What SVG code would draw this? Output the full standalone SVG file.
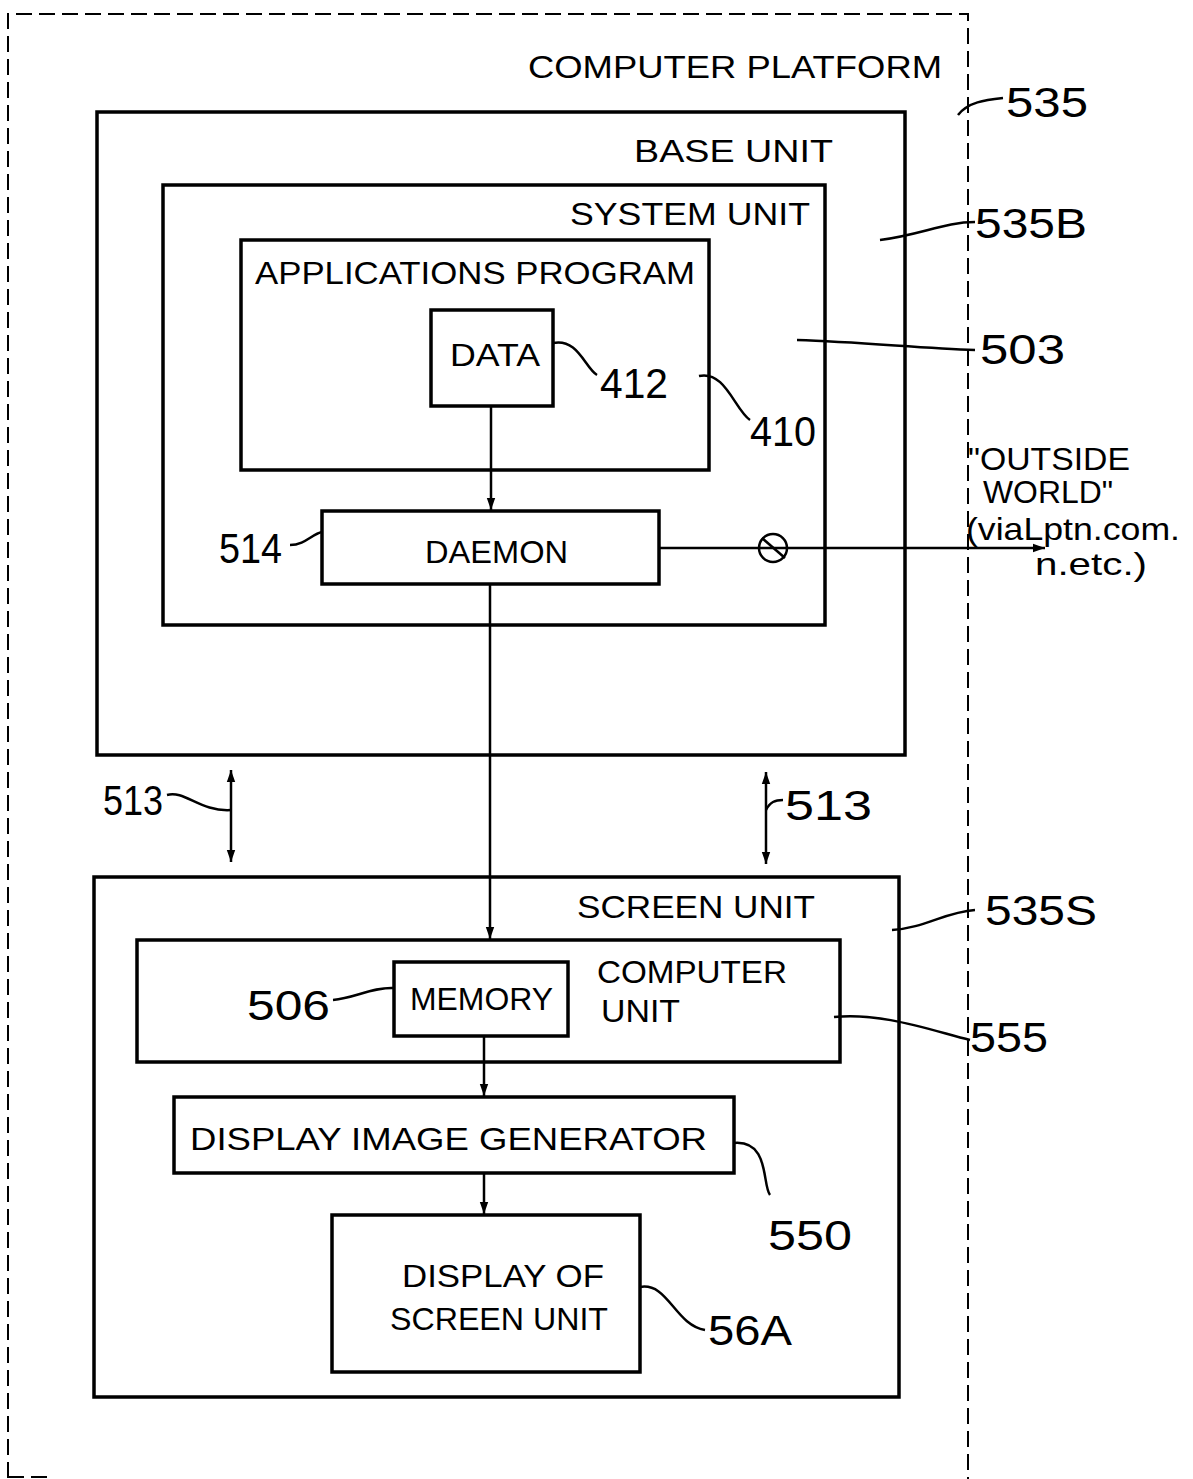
<svg xmlns="http://www.w3.org/2000/svg" width="1193" height="1479" viewBox="0 0 1193 1479">
<style>
.box{fill:none;stroke:#000;stroke-width:3.5}
.dash{fill:none;stroke:#000;stroke-width:2;stroke-dasharray:16,7}
.ln{fill:none;stroke:#000;stroke-width:2.5}
.lead{fill:none;stroke:#000;stroke-width:2.5}
text{font-family:"Liberation Sans",Arial,sans-serif;fill:#000}
.t{font-size:32px}
.n{font-size:42px}
</style>
<defs>
<marker id="ah" viewBox="0 0 10 10" refX="10" refY="5" markerWidth="12" markerHeight="14" markerUnits="userSpaceOnUse" orient="auto-start-reverse">
<path d="M0,1.5 L10,5 L0,8.5 z" fill="#000"/>
</marker>
<marker id="ahl" viewBox="0 0 10 10" refX="10" refY="5" markerWidth="26" markerHeight="12" markerUnits="userSpaceOnUse" orient="auto-start-reverse">
<path d="M0,1.5 L10,5 L0,8.5 z" fill="#000"/>
</marker>
</defs>
<rect width="1193" height="1479" fill="#fff"/>

<g id="platform">
<path class="dash" d="M8,1478 L8,14 L968,14 L968,1479"/>
<path class="dash" d="M8,1477 L50,1477"/>
<text class="t" x="528" y="78" textLength="414" lengthAdjust="spacingAndGlyphs">COMPUTER PLATFORM</text>
<text class="n" x="1006" y="117" textLength="82" lengthAdjust="spacingAndGlyphs">535</text>
</g>

<g id="base-unit">
<rect class="box" x="97" y="112" width="808" height="643"/>
<text class="t" x="634" y="162" textLength="199" lengthAdjust="spacingAndGlyphs">BASE UNIT</text>
<text class="n" x="975" y="238" textLength="112" lengthAdjust="spacingAndGlyphs">535B</text>
</g>

<g id="system-unit">
<rect class="box" x="163" y="185" width="662" height="440"/>
<text class="t" x="570" y="225" textLength="240" lengthAdjust="spacingAndGlyphs">SYSTEM UNIT</text>
<text class="n" x="980" y="364" textLength="85" lengthAdjust="spacingAndGlyphs">503</text>
</g>

<g id="applications-program">
<rect class="box" x="241" y="240" width="468" height="230"/>
<text class="t" x="255" y="284" textLength="440" lengthAdjust="spacingAndGlyphs">APPLICATIONS PROGRAM</text>
<text class="n" x="750" y="446" textLength="66" lengthAdjust="spacingAndGlyphs">410</text>
</g>

<g id="data">
<rect class="box" x="431" y="310" width="122" height="96"/>
<text class="t" x="450" y="366" textLength="90" lengthAdjust="spacingAndGlyphs">DATA</text>
<text class="n" x="600" y="398" textLength="68" lengthAdjust="spacingAndGlyphs">412</text>
</g>

<g id="daemon">
<rect class="box" x="322" y="511" width="337" height="73"/>
<text class="t" x="425" y="563" textLength="143" lengthAdjust="spacingAndGlyphs">DAEMON</text>
<text class="n" x="219" y="563" textLength="63" lengthAdjust="spacingAndGlyphs">514</text>
</g>

<g id="outside-world">
<text class="t" x="968" y="470" textLength="162" lengthAdjust="spacingAndGlyphs">"OUTSIDE</text>
<text class="t" x="983" y="503" textLength="130" lengthAdjust="spacingAndGlyphs">WORLD"</text>
<text class="t" x="966" y="540" textLength="214" lengthAdjust="spacingAndGlyphs">(viaLptn.com.</text>
<text class="t" x="1035" y="575" textLength="112" lengthAdjust="spacingAndGlyphs">n.etc.)</text>
</g>

<g id="screen-unit">
<rect class="box" x="94" y="877" width="805" height="520"/>
<text class="t" x="577" y="918" textLength="238" lengthAdjust="spacingAndGlyphs">SCREEN UNIT</text>
<text class="n" x="985" y="925" textLength="112" lengthAdjust="spacingAndGlyphs">535S</text>
</g>

<g id="computer-unit">
<rect class="box" x="137" y="940" width="703" height="122"/>
<text class="t" x="597" y="983" textLength="190" lengthAdjust="spacingAndGlyphs">COMPUTER</text>
<text class="t" x="601" y="1022" textLength="79" lengthAdjust="spacingAndGlyphs">UNIT</text>
<text class="n" x="970" y="1052" textLength="78" lengthAdjust="spacingAndGlyphs">555</text>
</g>

<g id="memory">
<rect class="box" x="394" y="962" width="174" height="74"/>
<text class="t" x="410" y="1010" textLength="143" lengthAdjust="spacingAndGlyphs">MEMORY</text>
<text class="n" x="247" y="1020" textLength="83" lengthAdjust="spacingAndGlyphs">506</text>
</g>

<g id="display-image-generator">
<rect class="box" x="174" y="1097" width="560" height="76"/>
<text class="t" x="190" y="1150" textLength="517" lengthAdjust="spacingAndGlyphs">DISPLAY IMAGE GENERATOR</text>
<text class="n" x="768" y="1250" textLength="84" lengthAdjust="spacingAndGlyphs">550</text>
</g>

<g id="display-of-screen-unit">
<rect class="box" x="332" y="1215" width="308" height="157"/>
<text class="t" x="402" y="1287" textLength="202" lengthAdjust="spacingAndGlyphs">DISPLAY OF</text>
<text class="t" x="390" y="1330" textLength="218" lengthAdjust="spacingAndGlyphs">SCREEN UNIT</text>
<text class="n" x="708" y="1345" textLength="84" lengthAdjust="spacingAndGlyphs">56A</text>
</g>

<g id="connectors">
<line class="ln" x1="491" y1="406" x2="491" y2="510" marker-end="url(#ah)"/>
<line class="ln" x1="490" y1="584" x2="490" y2="939" marker-end="url(#ah)"/>
<line class="ln" x1="484" y1="1036" x2="484" y2="1096" marker-end="url(#ah)"/>
<line class="ln" x1="484" y1="1173" x2="484" y2="1214" marker-end="url(#ah)"/>
<line class="ln" x1="659" y1="548" x2="1045" y2="548" marker-end="url(#ahl)"/>
<circle cx="773" cy="548" r="14" fill="none" stroke="#000" stroke-width="2.5"/>
<line class="ln" x1="762" y1="538" x2="785" y2="558"/>
<line class="ln" x1="231" y1="770" x2="231" y2="862" marker-start="url(#ahl)" marker-end="url(#ahl)"/>
<line class="ln" x1="766" y1="772" x2="766" y2="864" marker-start="url(#ahl)" marker-end="url(#ahl)"/>
<text class="n" x="103" y="815" textLength="60" lengthAdjust="spacingAndGlyphs">513</text>
<text class="n" x="785" y="820" textLength="87" lengthAdjust="spacingAndGlyphs">513</text>
<g id="leaders">
<path class="lead" d="M958,115 C968,102 985,100 1003,98"/>
<path class="lead" d="M880,240 C920,235 945,222 975,222"/>
<path class="lead" d="M797,340 C860,342 920,348 975,350"/>
<path class="lead" d="M553,343 C578,338 585,368 597,375"/>
<path class="lead" d="M699,376 C725,370 735,410 750,420"/>
<path class="lead" d="M322,532 C312,534 305,545 290,545"/>
<path class="lead" d="M167,795 C185,790 200,812 231,810"/>
<path class="lead" d="M766,810 C770,802 775,800 783,800"/>
<path class="lead" d="M892,930 C925,928 945,912 975,910"/>
<path class="lead" d="M834,1017 C880,1012 930,1030 970,1040"/>
<path class="lead" d="M333,1000 C355,998 372,987 394,988"/>
<path class="lead" d="M734,1143 C770,1140 762,1185 770,1195"/>
<path class="lead" d="M640,1287 C668,1282 675,1325 705,1330"/>
</g>
</g>
</svg>
